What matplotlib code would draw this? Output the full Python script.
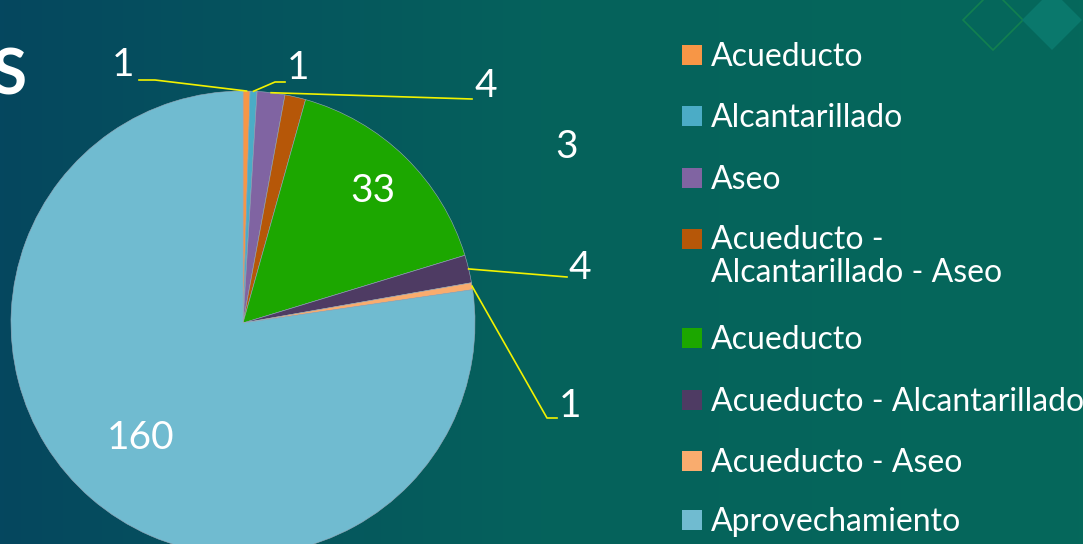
"""
Pie chart of service requests, slide style.
"""

import numpy as np
import matplotlib.pyplot as plt
from matplotlib.colors import LinearSegmentedColormap
from matplotlib.patches import Rectangle, Polygon

plt.rcParams["font.family"] = ["Lato", "DejaVu Sans"]

labels = [
    "Acueducto",
    "Alcantarillado",
    "Aseo",
    "Acueducto -\nAlcantarillado - Aseo",
    "Acueducto",
    "Acueducto - Alcantarillado",
    "Acueducto - Aseo",
    "Aprovechamiento",
]
values = [1, 1, 4, 3, 33, 4, 1, 160]
colors = ["#F79646", "#4BACC6", "#8064A2", "#B65708",
          "#1CA700", "#4E3B63", "#F9AC6E", "#70BBD0"]

W, H = 1083, 544
fig = plt.figure(figsize=(W / 100, H / 100), dpi=100)
ax = fig.add_axes([0, 0, 1, 1])

# background gradient
cmap = LinearSegmentedColormap.from_list("bg", ["#05475f", "#05625c", "#05685b"])
grad = np.linspace(0, 1, 256).reshape(1, -1)
ax.imshow(grad, cmap=cmap, extent=[0, W, 0, H], aspect="auto", zorder=0)

# decorative diamonds top right
ax.add_patch(Polygon([(993, H + 10), (1023, H - 20), (993, H - 50), (963, H - 20)],
                     closed=True, fill=False, ec="#12804f", lw=1.2, zorder=1))
ax.add_patch(Polygon([(1052, H + 10), (1082, H - 20), (1052, H - 50), (1022, H - 20)],
                     closed=True, fc="#0a786c", ec="none", zorder=1))

# cropped title letter
ax.text(-8, H - 76, "S", color="white", fontsize=46, fontweight="bold",
        va="center", ha="left", zorder=2)

cx, cy, r = 243, H - 323, 232
wedges, _ = ax.pie(values, colors=colors, startangle=90, counterclock=False,
                   center=(cx, cy), radius=r, frame=True,
                   wedgeprops=dict(linewidth=0.4, edgecolor="#9ab", zorder=3))
ax.set_xlim(0, W)
ax.set_ylim(0, H)
ax.axis("off")


def edge_point(w, frac=0.5):
    ang = np.deg2rad(w.theta1 + (w.theta2 - w.theta1) * frac)
    return cx + r * np.cos(ang), cy + r * np.sin(ang)


txt = dict(color="white", fontsize=28, ha="center", va="center", zorder=5)
line = dict(color="#f2f200", lw=1.2, zorder=4)

# label positions (pixels, y from top) and leader elbows
label_pos = [(123, 65), (298, 68), (486, 86), (567, 147),
             (373, 191), (580, 268), (570, 406), (141, 438)]
elbows = [[(155, 80), (139, 80)],
          [(275, 82), (285, 82)],
          [(472, 99)],
          None,
          None,
          [(567, 277)],
          [(547, 418), (557, 418)],
          None]

for i, (w, v) in enumerate(zip(wedges, values)):
    x, y = label_pos[i]
    ax.text(x, H - y, str(v), **txt)
    if elbows[i]:
        px, py = edge_point(w)
        xs = [px] + [e[0] for e in elbows[i]]
        ys = [py] + [H - e[1] for e in elbows[i]]
        ax.plot(xs, ys, **line)

# legend
row_y = [55, 116, 178, 239, 338, 400, 461, 520]
for lab, col, y in zip(labels, colors, row_y):
    ax.add_patch(Rectangle((682, H - y - 10), 20, 20, fc=col, ec="none", zorder=5))
    if "\n" in lab:
        ax.text(711, H - y + 14, lab, color="white", fontsize=23, ha="left",
                va="top", linespacing=1.12, zorder=5)
    else:
        ax.text(711, H - y - 2, lab, color="white", fontsize=23, ha="left",
                va="center", zorder=5)

fig.savefig("out.png", dpi=100)
